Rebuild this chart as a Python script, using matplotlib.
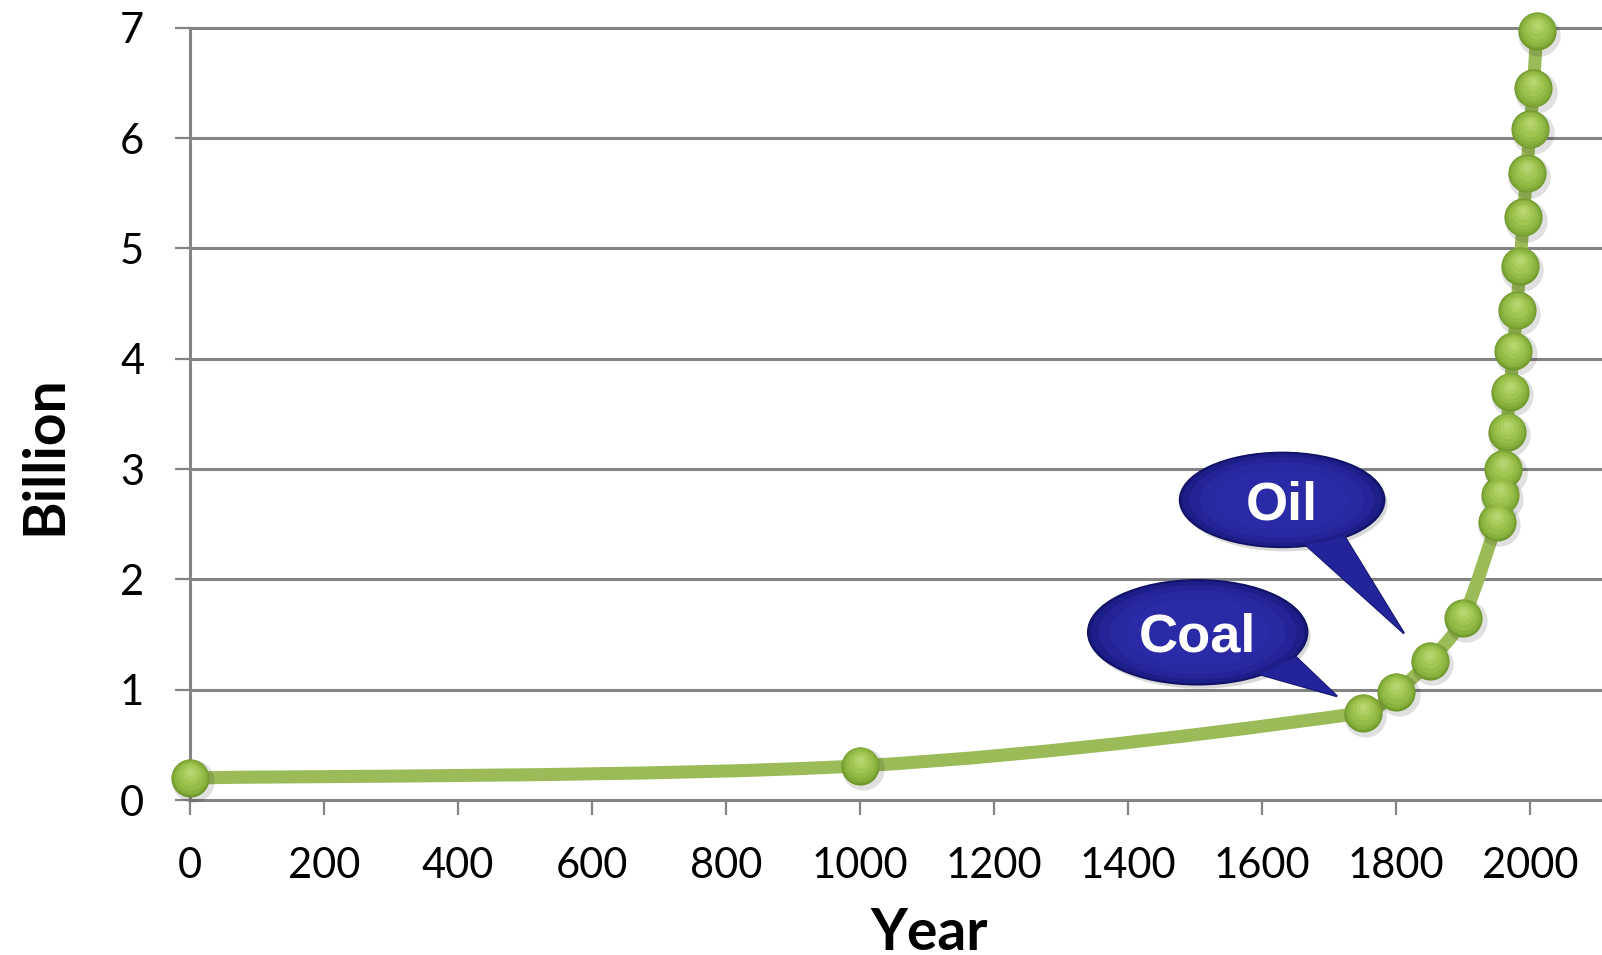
import numpy as np
import matplotlib
matplotlib.use("Agg")
import matplotlib.pyplot as plt
from matplotlib.path import Path
from matplotlib.patches import PathPatch, Ellipse, Polygon
from matplotlib import transforms

# World population (billions) by year
years = [0, 1000, 1750, 1800, 1850, 1900, 1950, 1955, 1960, 1965, 1970,
         1975, 1980, 1985, 1990, 1995, 2000, 2005, 2010]
population = [0.20, 0.31, 0.79, 0.98, 1.26, 1.65, 2.52, 2.76, 3.00, 3.34,
              3.70, 4.07, 4.44, 4.84, 5.28, 5.68, 6.08, 6.45, 6.97]

x_ticks = [0, 200, 400, 600, 800, 1000, 1200, 1400, 1600, 1800, 2000]
y_ticks = [0, 1, 2, 3, 4, 5, 6, 7]

# Speech-bubble callouts: label, centre, size, tail tip, tail base points
callouts = [
    ("Oil", (1630, 2.72), (306, 0.86), (1812, 1.51), [(1662, 2.33), (1722, 2.40)]),
    ("Coal", (1504, 1.52), (328, 0.95), (1712, 0.94), [(1596, 1.14), (1650, 1.30)]),
]

GREEN = "#9BBB59"
GRID = "#848484"

W, H, DPI = 1602, 955, 100
fig = plt.figure(figsize=(W / DPI, H / DPI), dpi=DPI)
x0_px, y0_px, ytop_px = 190, 800, 27.7
px_per_year = 0.67
xmax = (W - x0_px) / px_per_year
ax = fig.add_axes([x0_px / W, (H - y0_px) / H, 1 - x0_px / W, (y0_px - ytop_px) / H])
ax.set_xlim(0, xmax)
ax.set_ylim(0, 7)

# axes styling
for side in ("top", "right"):
    ax.spines[side].set_visible(False)
for side in ("left", "bottom"):
    ax.spines[side].set_color(GRID)
    ax.spines[side].set_linewidth(2.2)
ax.set_xticks(x_ticks)
ax.set_yticks(y_ticks)
ax.tick_params(axis="both", direction="out", length=11, width=1.6, color=GRID,
               labelsize=30, labelcolor="black")
ax.tick_params(axis="y", pad=22)
ax.tick_params(axis="x", pad=23)
for lab in ax.get_xticklabels() + ax.get_yticklabels():
    lab.set_fontfamily("Lato")
for yv in y_ticks[1:]:
    ax.axhline(yv, color=GRID, lw=2.2, zorder=1, clip_on=False)

fig.text(929 / W, 1 - 950 / H, "Year", fontsize=41, fontweight="bold",
         family="Lato", ha="center", va="baseline")
fig.text(61 / W, 1 - 455 / H, "Billion", fontsize=41, fontweight="bold",
         family="Lato", ha="center", va="baseline", rotation=90,
         rotation_mode="anchor")

# smoothed line: Catmull-Rom Bezier segments built in screen space,
# with handles limited so closely spaced points do not loop
fig.canvas.draw()
P = ax.transData.transform(np.column_stack([years, population]))
n = len(P)
verts = [P[0]]
codes = [Path.MOVETO]
for i in range(n - 1):
    p0 = P[max(i - 1, 0)]
    p1, p2 = P[i], P[i + 1]
    p3 = P[min(i + 2, n - 1)]
    chord = np.hypot(*(p2 - p1))
    h1 = (p2 - p0) / 6.0
    h2 = (p3 - p1) / 6.0
    for h in (h1, h2):
        L = np.hypot(*h)
        lim = 0.4 * chord
        if L > lim:
            h *= lim / L
    verts += [p1 + h1, p2 - h2, p2]
    codes += [Path.CURVE4] * 3
verts = ax.transData.inverted().transform(np.array(verts))
ax.add_patch(PathPatch(Path(verts, codes), facecolor="none", edgecolor=GREEN,
                       lw=9.4, capstyle="round", joinstyle="round", zorder=3,
                       clip_on=False))

# glossy spherical markers
xs = np.asarray(years, float)
ys = np.asarray(population, float)
d_pt = 27.5
shadow = transforms.offset_copy(ax.transData, fig=fig, x=2.5, y=-3.5, units="dots")
ax.scatter(xs, ys, s=(d_pt + 3) ** 2, color="#000000", alpha=0.12, lw=0,
           transform=shadow, zorder=4, clip_on=False)
ax.scatter(xs, ys, s=d_pt ** 2, color="#71982E", lw=0, zorder=5, clip_on=False)
layers = [(0.94, 0.6, "#82AA38"), (0.86, 1.3, "#8DB440"), (0.74, 2.3, "#98BE48"),
          (0.57, 3.5, "#A3C855"), (0.38, 5.0, "#AFD063"), (0.2, 6.2, "#BAD771")]
for frac, dy, col in layers:
    tr = transforms.offset_copy(ax.transData, fig=fig, x=0, y=dy, units="dots")
    ax.scatter(xs, ys, s=(d_pt * frac) ** 2, color=col, lw=0, alpha=0.85,
               transform=tr, zorder=5, clip_on=False)

# speech bubbles
for text, (cx, cy), (w, h), tip, base in callouts:
    sh = transforms.offset_copy(ax.transData, fig=fig, x=3, y=-4, units="dots")
    ax.add_patch(Ellipse((cx, cy), w, h, facecolor="#000000", alpha=0.15, lw=0,
                         transform=sh, zorder=6))
    tail = [base[0], tip, base[1]]
    ax.add_patch(Polygon(tail, closed=True, facecolor="#16166E", edgecolor="#16166E",
                         lw=1.5, zorder=7))
    ax.add_patch(Ellipse((cx, cy), w, h, facecolor="#17177A", edgecolor="#121265",
                         lw=1.2, zorder=7))
    ax.add_patch(Polygon(tail, closed=True, facecolor="#23239A", lw=0, zorder=8))
    for frac, col in [(0.97, "#1E1E8A"), (0.9, "#242498"), (0.8, "#2828A0"),
                      (0.65, "#2A2AA6")]:
        ax.add_patch(Ellipse((cx, cy), w * frac, h * frac, facecolor=col, lw=0,
                             zorder=8))
    ax.text(cx, cy, text, color="white", fontsize=39, fontweight="bold",
            family="Liberation Sans", ha="center", va="center_baseline", zorder=9)

fig.savefig("out.png", dpi=DPI)
